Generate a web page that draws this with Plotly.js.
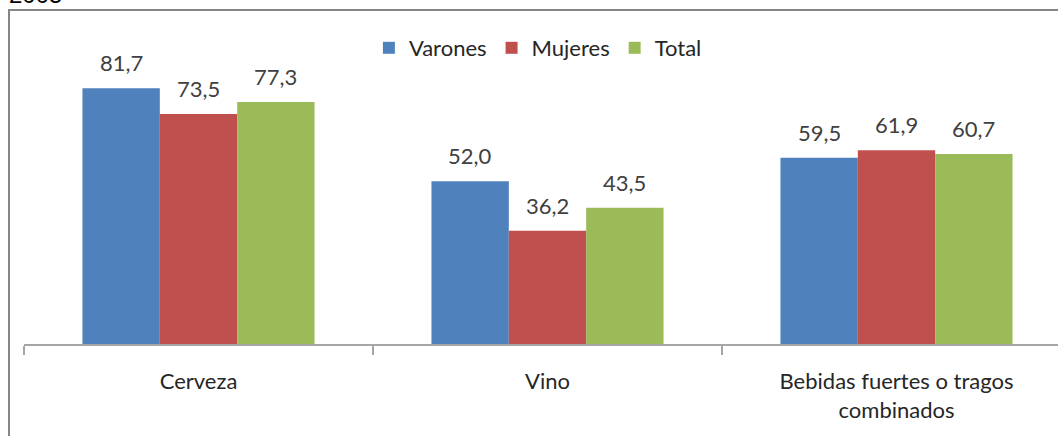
<!DOCTYPE html>
<html>
<head>
<meta charset="utf-8">
<script src="https://cdn.plot.ly/plotly-3.0.1.min.js"></script>
<style>
html,body{margin:0;padding:0;background:#fff;overflow:hidden;}
#chart{width:1058px;height:436px;}
</style>
</head>
<body>
<div id="chart"></div>
<script>
const categories = ['Cerveza', 'Vino', 'Bebidas fuertes o tragos<br>combinados'];
const seriesNames = ['Varones', 'Mujeres', 'Total'];
const varones = [81.7, 52.0, 59.5];
const mujeres = [73.5, 36.2, 61.9];
const total = [77.3, 43.5, 60.7];
const headerText = '2005';

const colors = ['#4F81BD', '#C0504D', '#9BBB59'];
const allSeries = [varones, mujeres, total];
const FONT = 'Lato, "Open Sans", sans-serif';
const bargap = 0.335;
const barW = (1 - bargap) / allSeries.length;

const fmt = v => v.toFixed(1).replace('.', ',');

const traces = allSeries.map((vals, s) => ({
  type: 'bar',
  name: seriesNames[s],
  x: categories,
  y: vals,
  marker: {color: colors[s], line: {width: 0}},
  hoverinfo: 'none'
}));

const annotations = [];
allSeries.forEach((vals, s) => {
  vals.forEach((v, i) => {
    annotations.push({
      x: i + (s - (allSeries.length - 1) / 2) * barW,
      y: v,
      xref: 'x', yref: 'y',
      text: fmt(v),
      showarrow: false,
      yanchor: 'bottom',
      yshift: 10,
      font: {family: FONT, size: 22, color: '#404040'}
    });
  });
});

// plot area: left 24, right 1058, top 62, bottom 344
const L = 24, R = 1058, T = 62, B = 344;
const px2x = p => (p - L) / (R - L);
const px2y = p => (B - p) / (B - T);

annotations.push({
  xref: 'paper', yref: 'paper',
  x: px2x(7), y: px2y(10),
  xanchor: 'left', yanchor: 'bottom',
  text: headerText, showarrow: false,
  font: {family: '"Liberation Sans", Arial, sans-serif', size: 24, color: '#000'}
});

const layout = {
  width: 1058, height: 436,
  margin: {l: L, r: 1058 - R, t: T, b: 436 - B, pad: 0},
  paper_bgcolor: '#fff', plot_bgcolor: '#fff',
  barmode: 'group', bargap: bargap, bargroupgap: 0,
  showlegend: true,
  legend: {
    orientation: 'h', x: 0.497, xanchor: 'center',
    y: px2y(48), yanchor: 'middle',
    font: {family: FONT, size: 22, color: '#262626'},
    bgcolor: 'rgba(0,0,0,0)'
  },
  xaxis: {
    type: 'category',
    range: [-0.5, 2.5 - 13 / 349],
    showline: true, linecolor: '#a6a6a6', linewidth: 2,
    ticks: 'outside', tickson: 'boundaries', ticklen: 9, tickwidth: 2, tickcolor: '#a6a6a6',
    tickfont: {family: FONT, size: 22, color: '#262626'},
    ticklabelstandoff: 17,
    showgrid: false, zeroline: false, fixedrange: true
  },
  yaxis: {
    range: [0, 90.1], visible: false, showgrid: false, zeroline: false, fixedrange: true
  },
  annotations: annotations,
  shapes: [
    {type: 'line', xref: 'paper', yref: 'paper', x0: px2x(9), x1: px2x(9), y0: px2y(440), y1: px2y(10),
     line: {color: '#868686', width: 2}},
    {type: 'line', xref: 'paper', yref: 'paper', x0: px2x(8), x1: px2x(1070), y0: px2y(10), y1: px2y(10),
     line: {color: '#868686', width: 2}}
  ]
};

Plotly.newPlot('chart', traces, layout, {displayModeBar: false, staticPlot: true});
</script>
</body>
</html>
